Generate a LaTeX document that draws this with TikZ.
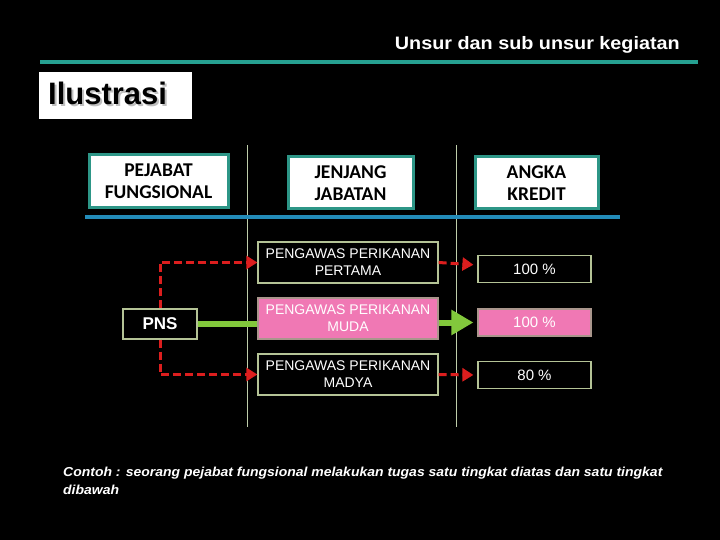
\documentclass[tikz,border=0pt]{standalone}
\usepackage{fontspec}
\setmainfont{Liberation Sans}
\newfontfamily\calibri{Carlito}
\usetikzlibrary{arrows.meta}
\definecolor{tealline}{RGB}{38,160,145}
\definecolor{hdrteal}{RGB}{45,150,135}
\definecolor{blueline}{RGB}{35,140,185}
\definecolor{vline}{RGB}{190,205,170}
\definecolor{jabline}{RGB}{180,195,150}
\definecolor{pinkfill}{RGB}{240,120,180}
\definecolor{pinkline}{RGB}{170,150,140}
\definecolor{greenc}{RGB}{130,200,60}
\definecolor{redc}{RGB}{220,30,30}
\begin{document}
\begin{tikzpicture}[x=1pt,y=-1pt,
  hdr/.style={draw=hdrteal, line width=3pt, fill=white, text=black, align=center,
    font=\calibri\bfseries\fontsize{19.5}{22}\selectfont, inner sep=0pt},
  jab/.style={draw=jabline, line width=1.2pt, fill=black, text=white, align=center,
    font=\fontsize{14}{17}\selectfont, minimum width=180pt, minimum height=41pt, inner sep=0pt},
  kred/.style={draw=jabline, line width=1.2pt, fill=black, text=white,
    font=\fontsize{15}{18}\selectfont, minimum width=113pt, minimum height=27pt, inner sep=0pt},
  pinkbox/.style={fill=pinkfill, draw=pinkline},
  redarrow/.style={draw=redc, line width=3pt, dash pattern=on 8pt off 4pt,
    -{Triangle[length=11pt,width=13pt]}},
  greenline/.style={draw=greenc, line width=6pt},
  greenarrow/.style={draw=greenc, line width=6pt, -{Triangle[length=22pt,width=24pt]}},
  sep/.style={draw=vline, line width=0.8pt}
]
\useasboundingbox[fill=black] (0,0) rectangle (720,540);

% title
\node[anchor=base east, text=white, font=\bfseries\fontsize{18}{20}\selectfont, inner sep=0pt]
  (title) at (680,50) {\scalebox{1.1}[1]{Unsur dan sub unsur kegiatan}};
\draw[tealline, line width=4pt] (40,62) -- (698,62);

% Ilustrasi
\node[fill=white, minimum width=153pt, minimum height=47pt, inner sep=0pt] (ilbox) at (115.5,95.5) {};
\node[anchor=base west, text=black, font=\bfseries\fontsize{31}{33}\selectfont, inner sep=0pt]
  (il) at (48,105) {\makebox[0pt][l]{\hspace{2pt}\raisebox{-2pt}{\color{black!25}Ilustrasi}}Ilustrasi};

% separators
\draw[sep] (247,145) -- (247,427);
\draw[sep] (456,145) -- (456,427);

% headers
\node[hdr, minimum width=139pt, minimum height=53pt] (h1) at (158.5,181.5) {PEJABAT\\FUNGSIONAL};
\node[hdr, minimum width=125pt, minimum height=52pt] (h2) at (350.5,183) {JENJANG\\JABATAN};
\node[hdr, minimum width=123pt, minimum height=52pt] (h3) at (536.5,183) {ANGKA\\KREDIT};
\draw[blueline, line width=4pt] (85,217) -- (620,217);

% jenjang
\node[jab] (pertama) at (348,262.5) {PENGAWAS PERIKANAN\\PERTAMA};
\node[jab, pinkbox] (muda) at (348,318.5) {PENGAWAS PERIKANAN\\MUDA};
\node[jab] (madya) at (348,374.5) {PENGAWAS PERIKANAN\\MADYA};

% kredit
\node[kred] (k1) at (534.5,269) {100 \%};
\node[kred, pinkbox] (k2) at (534.5,322.5) {100 \%};
\node[kred] (k3) at (534.5,375) {80 \%};

% PNS
\node[draw=jabline, line width=1.2pt, fill=black, text=white, font=\bfseries\fontsize{17}{19}\selectfont,
  minimum width=74pt, minimum height=30pt, inner sep=0pt] (pns) at (160,324) {PNS};

% connectors
\draw[greenline] (pns.east) -- (pns.east -| muda.west);
\draw[greenarrow, shorten >=4pt] (muda.east |- k2) -- (k2.west);
\draw[redarrow] (pns.north) |- (pertama.west);
\draw[redarrow] (pns.south) |- (madya.west);
\draw[redarrow, shorten >=4pt] (pertama.east) -- ([yshift=4pt]k1.west);
\draw[redarrow, shorten >=4pt] (madya.east) -- (k3.west);

% note
\node[anchor=base west, text=white, font=\bfseries\itshape\fontsize{13}{18}\selectfont, inner sep=0pt, align=left]
  (note) at (63,494) {\scalebox{1.075}[1]{Contoh : seorang pejabat fungsional melakukan tugas satu tingkat diatas dan satu tingkat}\\\scalebox{1.075}[1]{dibawah}};
\end{tikzpicture}
\end{document}
